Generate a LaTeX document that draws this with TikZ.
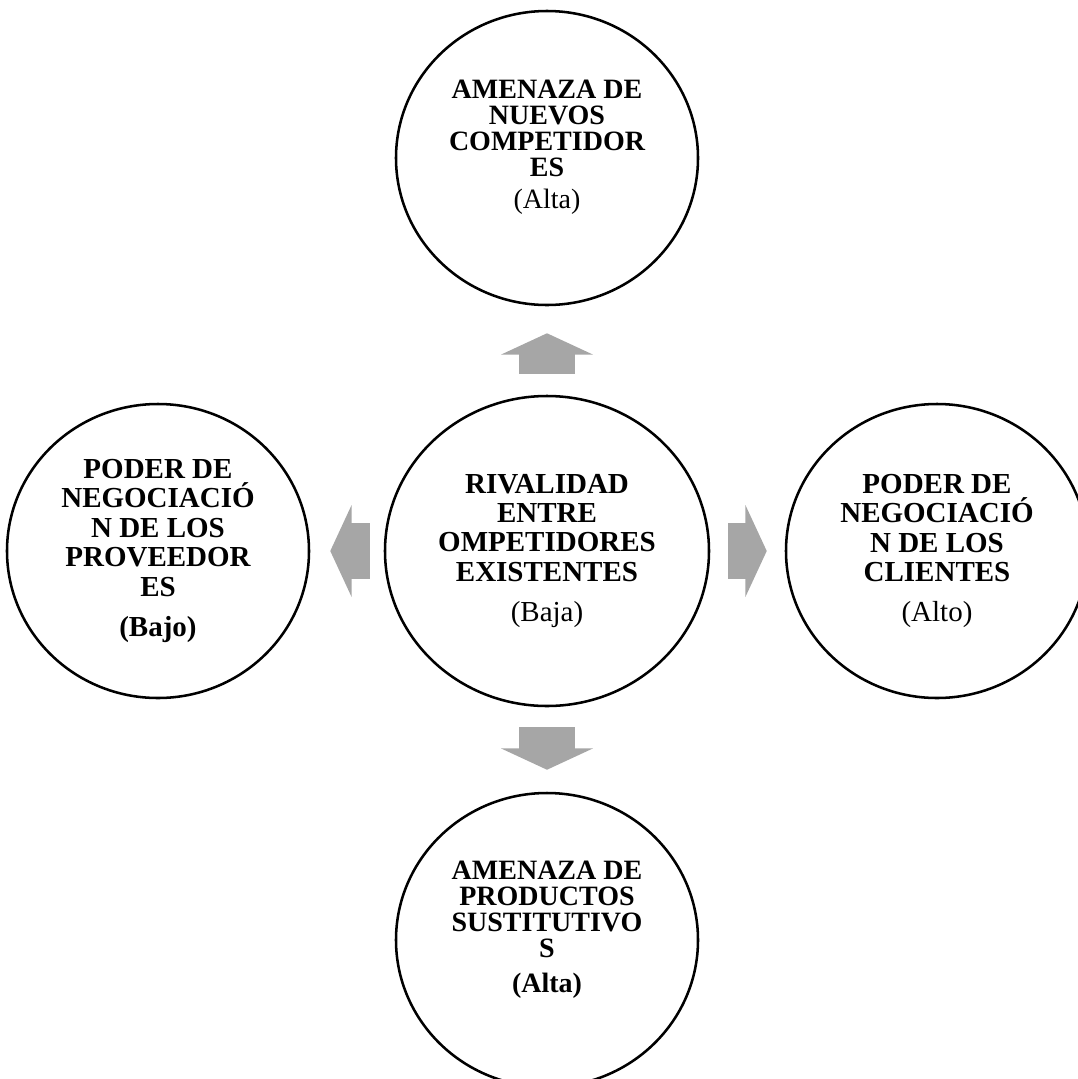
\documentclass[tikz,border=0pt]{standalone}
\usepackage{fontspec}
\setmainfont{Liberation Serif}
\usetikzlibrary{shapes.geometric,arrows.meta}
\definecolor{grisflecha}{HTML}{A6A6A6}

\begin{document}
\begin{tikzpicture}[
  x=0.75pt,y=-0.75pt,
  fuerza/.style={draw,ellipse,line width=1.9pt,minimum width=226.5pt,minimum height=220.5pt,inner sep=0pt},
  txtgrande/.style={align=center,inner sep=0pt,font=\fontsize{21.75}{22.1}\selectfont\bfseries},
  txtchico/.style={align=center,inner sep=0pt,yshift=8pt,font=\fontsize{21}{19.5}\selectfont\bfseries},
  flecha/.style 2 args={draw=grisflecha,line width=42pt,shorten <=#1,shorten >=#2,
    -{Triangle[width=69pt,length=16pt,line width=0pt]},
    preaction={draw=grisflecha,line width=42pt,-,shorten <=#1,shorten >=#2+12pt}}
]
  \useasboundingbox (0,0) rectangle (1078,1079);

  \node[fuerza,minimum width=243pt,minimum height=232.5pt,
    label={[txtgrande]center:{RIVALIDAD\\ENTRE\\OMPETIDORES\\EXISTENTES\\[8.25pt]\mdseries (Baja)}}] (rival) at (547,551) {};
  \node[fuerza,label={[txtchico]center:{AMENAZA DE\\NUEVOS\\COMPETIDOR\\ES\\[4pt]\mdseries (Alta)}}] (nuevos) at (547,158) {};
  \node[fuerza,label={[txtgrande]center:{PODER DE\\NEGOCIACIÓ\\N DE LOS\\PROVEEDOR\\ES\\[8.25pt](Bajo)}}] (proveedores) at (158,551) {};
  \node[fuerza,label={[txtgrande]center:{PODER DE\\NEGOCIACIÓ\\N DE LOS\\CLIENTES\\[8.25pt]\mdseries (Alto)}}] (clientes) at (937,551) {};
  \node[fuerza,label={[txtchico]center:{AMENAZA DE\\PRODUCTOS\\SUSTITUTIVO\\S\\[6.75pt](Alta)}}] (sustitutos) at (547,940) {};

  \draw[flecha={15.75pt}{20.25pt}] (rival) -- (nuevos);
  \draw[flecha={15pt}{16.5pt}] (rival) -- (sustitutos);
  \draw[flecha={10.5pt}{15pt}] (rival) -- (proveedores);
  \draw[flecha={13.5pt}{13.5pt}] (rival) -- (clientes);
\end{tikzpicture}
\end{document}
